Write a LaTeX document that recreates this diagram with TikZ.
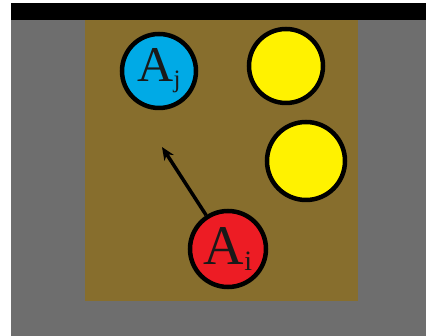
\documentclass[tikz,border=0pt]{standalone}
\usepackage{fontspec}
\setmainfont{Liberation Serif}
\usetikzlibrary{arrows.meta}

\definecolor{field}{RGB}{135,110,45}
\definecolor{outside}{RGB}{110,110,110}
\definecolor{agentj}{RGB}{0,170,230}
\definecolor{agenti}{RGB}{237,28,36}
\definecolor{target}{RGB}{255,242,0}

% agent label: capital A with a small index
\newcommand\agentlabel[2]{A\raisebox{-0.25ex}{\fontsize{#2}{#2}\selectfont #1}}

\begin{document}
\begin{tikzpicture}[x=1pt, y=-1pt, >={Stealth[length=13pt,width=11pt]}]
	\tikzset{
		agent/.style={circle, draw=black, line width=4.5pt, inner sep=0pt, minimum size=74pt, font=\fontsize{50}{50}\selectfont, text=black!90},
	}
	\useasboundingbox (0,0) rectangle (426,336);

	%background: top bar, surrounding area, field
	\fill[black] (11,3) rectangle (426,20);
	\fill[outside] (11,20) rectangle (426,336);
	\fill[field] (85,20) rectangle (358,301);

	%agents and targets
	\node[agent, fill=agentj] (Aj) at (159,71) {\agentlabel{j}{25}};
	\node[agent, fill=target] (T1) at (286,66) {};
	\node[agent, fill=target, minimum size=78pt] (T2) at (306,161) {};
	\node[agent, fill=agenti, minimum size=76pt, font=\fontsize{56}{56}\selectfont] (Ai) at (228,249) {\agentlabel{i}{28}};

	%heading of A_i
	\coordinate (head) at (162,147);
	\draw[->, line width=3.5pt] (Ai) -- (head);
\end{tikzpicture}
\end{document}
